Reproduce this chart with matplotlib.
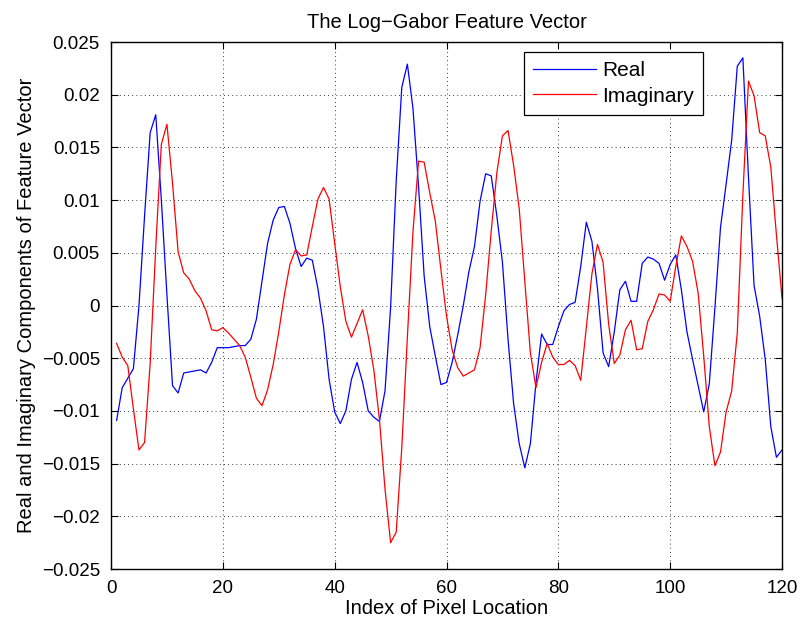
import numpy as np
import matplotlib
matplotlib.use("Agg")
import matplotlib.pyplot as plt

plt.rcParams['font.family'] = ['Liberation Sans', 'DejaVu Sans']

# pixel index 1..120
idx = np.arange(1, 121)

# real part (x 1e-3)
real_part = [
    -10.9, -7.8, -6.9, -6.0, 0.0, 8.5, 16.4, 18.1, 10.0, 1.0,
    -7.6, -8.3, -6.4, -6.3, -6.2, -6.1, -6.4, -5.4, -4.0, -4.0,
    -4.0, -3.9, -3.8, -3.8, -3.2, -1.3, 2.3, 5.9, 8.1, 9.3,
    9.4, 7.8, 5.4, 3.7, 4.5, 4.3, 1.6, -2.0, -7.0, -10.1,
    -11.2, -10.0, -7.0, -5.4, -7.3, -10.0, -10.6, -11.0, -8.1, -0.2,
    11.8, 20.7, 22.9, 18.7, 11.3, 2.8, -2.0, -4.8, -7.5, -7.3,
    -5.4, -2.8, 0.0, 3.2, 5.6, 9.9, 12.5, 12.3, 8.5, 4.1,
    -3.2, -9.3, -13.1, -15.4, -13.1, -7.3, -2.7, -3.7, -3.7, -2.0,
    -0.5, 0.1, 0.3, 3.7, 7.9, 6.1, 1.6, -4.5, -5.8, -2.5,
    1.5, 2.3, 0.4, 0.4, 4.0, 4.6, 4.4, 4.0, 2.4, 3.9,
    4.8, 1.5, -2.5, -5.1, -7.6, -10.1, -7.4, -0.2, 7.4, 11.5,
    15.7, 22.7, 23.5, 12.2, 1.9, -1.0, -5.1, -11.5, -14.4, -13.7,
]

# imaginary part (x 1e-3)
imag_part = [
    -3.6, -4.9, -5.7, -9.8, -13.7, -13.0, -5.5, 5.5, 15.3, 17.2,
    11.6, 5.1, 3.1, 2.5, 1.4, 0.7, -0.5, -2.3, -2.4, -2.1,
    -2.6, -3.2, -3.8, -4.9, -6.8, -8.8, -9.5, -8.0, -5.6, -2.5,
    1.0, 3.9, 5.3, 4.7, 4.8, 7.5, 10.1, 11.2, 10.1, 5.9,
    1.8, -1.5, -3.0, -1.7, -0.4, -2.9, -6.1, -10.8, -17.4, -22.5,
    -21.5, -13.5, -3.0, 7.0, 13.7, 13.6, 10.7, 8.0, 3.4, -1.0,
    -4.2, -5.9, -6.7, -6.4, -6.1, -4.0, 1.0, 7.1, 12.6, 16.1,
    16.6, 13.3, 9.2, 2.3, -4.5, -7.8, -5.4, -3.6, -4.9, -5.6,
    -5.6, -5.2, -5.7, -7.1, -2.1, 3.0, 5.8, 4.1, -1.8, -5.5,
    -4.7, -2.3, -1.4, -4.2, -4.1, -1.5, -0.4, 1.1, 1.0, 0.4,
    3.7, 6.6, 5.6, 4.2, 1.2, -4.8, -11.5, -15.2, -13.9, -10.1,
    -8.1, -2.6, 10.5, 21.3, 19.9, 16.4, 16.1, 13.1, 6.7, 0.7,
]

xticks = [0, 20, 40, 60, 80, 100, 120]
yticks = [-0.025, -0.02, -0.015, -0.01, -0.005, 0, 0.005, 0.01, 0.015, 0.02, 0.025]
ytick_labels = ['\u22120.025', '\u22120.02', '\u22120.015', '\u22120.01', '\u22120.005',
                '0', '0.005', '0.01', '0.015', '0.02', '0.025']

fig = plt.figure(figsize=(8.01, 6.28), dpi=100)
ax = fig.add_axes([0.1386, 0.0939, 0.8377, 0.8392])

ax.plot(idx, np.array(real_part) * 1e-3, color='blue', linewidth=0.9, label='Real')
ax.plot(idx, np.array(imag_part) * 1e-3, color='red', linewidth=0.9, label='Imaginary')

ax.set_xlim(0, 120)
ax.set_ylim(-0.025, 0.025)
ax.set_xticks(xticks)
ax.set_yticks(yticks)
ax.set_yticklabels(ytick_labels)
ax.tick_params(direction='in', top=True, right=True, length=5, width=0.8,
               labelsize=13.5, pad=8)
for s in ax.spines.values():
    s.set_linewidth(1.0)

ax.grid(True, linestyle=(0, (1, 4)), color='black', linewidth=0.6)

ax.set_title('The Log\u2212Gabor Feature Vector', fontsize=14.5, pad=10)
ax.set_xlabel('Index of Pixel Location', fontsize=14.5, labelpad=1)
ax.set_ylabel('Real and Imaginary Components of Feature Vector', fontsize=14.5, labelpad=4)

leg = ax.legend(loc='upper right', bbox_to_anchor=(0.8823, 0.981), borderaxespad=0,
                fancybox=False, framealpha=1, edgecolor='black', fontsize=15,
                handlelength=3.0, handletextpad=0.3, borderpad=0.45, labelspacing=0.3)
leg.get_frame().set_linewidth(0.9)

fig.savefig('out.png', dpi=100)
